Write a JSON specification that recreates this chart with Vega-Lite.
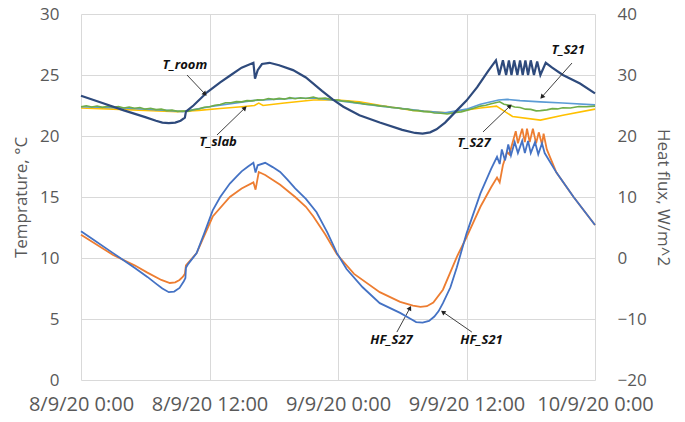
{
  "$schema": "https://vega.github.io/schema/vega-lite/v6.json",
  "width": 514,
  "height": 366,
  "autosize": {"type": "none"},
  "padding": {"left": 81, "top": 14, "right": 90, "bottom": 42},
  "background": "white",
  "config": {
    "view": {"stroke": null},
    "axis": {
      "labelFont": "Open Sans", "labelFontSize": 17, "labelColor": "#595959",
      "titleFont": "Open Sans", "titleFontSize": 17, "titleColor": "#595959", "titleFontWeight": "normal",
      "gridColor": "#D9D9D9", "gridWidth": 1, "domain": false, "ticks": false
    }
  },
  "datasets": {
    "temps": [
      {"s":"T_room","h":0,"v":23.3},{"s":"T_room","h":2,"v":22.7},{"s":"T_room","h":4,"v":22.1},{"s":"T_room","h":6,"v":21.55},{"s":"T_room","h":7,"v":21.25},{"s":"T_room","h":7.6,"v":21.1},{"s":"T_room","h":8.2,"v":21.05},{"s":"T_room","h":8.8,"v":21.1},{"s":"T_room","h":9.3,"v":21.25},{"s":"T_room","h":9.7,"v":21.5},{"s":"T_room","h":9.8,"v":22.0},{"s":"T_room","h":10.5,"v":22.5},{"s":"T_room","h":11.8,"v":23.6},{"s":"T_room","h":13,"v":24.4},{"s":"T_room","h":14,"v":25.0},{"s":"T_room","h":15,"v":25.6},{"s":"T_room","h":16.1,"v":26.0},{"s":"T_room","h":16.25,"v":24.7},{"s":"T_room","h":16.5,"v":25.4},{"s":"T_room","h":16.9,"v":25.9},{"s":"T_room","h":17.6,"v":26.0},{"s":"T_room","h":18.5,"v":25.8},{"s":"T_room","h":19.8,"v":25.4},{"s":"T_room","h":21,"v":24.8},{"s":"T_room","h":22.5,"v":23.7},{"s":"T_room","h":23.5,"v":23.0},{"s":"T_room","h":24.5,"v":22.4},{"s":"T_room","h":26,"v":21.7},{"s":"T_room","h":27.9,"v":21.1},{"s":"T_room","h":30,"v":20.5},{"s":"T_room","h":31.2,"v":20.25},{"s":"T_room","h":31.9,"v":20.2},{"s":"T_room","h":32.6,"v":20.3},{"s":"T_room","h":33.2,"v":20.55},{"s":"T_room","h":34,"v":21.1},{"s":"T_room","h":35.1,"v":22.1},{"s":"T_room","h":36,"v":22.9},{"s":"T_room","h":37,"v":24.0},{"s":"T_room","h":38,"v":25.3},{"s":"T_room","h":38.75,"v":26.2},{"s":"T_room","h":39.05,"v":25.0},{"s":"T_room","h":39.4,"v":26.2},{"s":"T_room","h":39.7,"v":25.0},{"s":"T_room","h":39.96,"v":26.2},{"s":"T_room","h":40.2,"v":25.0},{"s":"T_room","h":40.45,"v":26.2},{"s":"T_room","h":40.75,"v":25.0},{"s":"T_room","h":41.0,"v":26.2},{"s":"T_room","h":41.25,"v":25.0},{"s":"T_room","h":41.5,"v":26.2},{"s":"T_room","h":41.75,"v":25.0},{"s":"T_room","h":42.0,"v":26.2},{"s":"T_room","h":42.3,"v":25.0},{"s":"T_room","h":42.6,"v":26.1},{"s":"T_room","h":42.9,"v":25.0},{"s":"T_room","h":43.4,"v":26.0},{"s":"T_room","h":44,"v":25.6},{"s":"T_room","h":45,"v":25.0},{"s":"T_room","h":46.6,"v":24.3},{"s":"T_room","h":48,"v":23.5},

      {"s":"T_slab","h":0,"v":22.3},{"s":"T_slab","h":3,"v":22.2},{"s":"T_slab","h":6,"v":22.1},{"s":"T_slab","h":9,"v":22.0},{"s":"T_slab","h":11,"v":22.1},{"s":"T_slab","h":13,"v":22.25},{"s":"T_slab","h":15,"v":22.4},{"s":"T_slab","h":16.2,"v":22.5},{"s":"T_slab","h":16.6,"v":22.7},{"s":"T_slab","h":17,"v":22.5},{"s":"T_slab","h":19,"v":22.7},{"s":"T_slab","h":21.7,"v":22.95},{"s":"T_slab","h":24,"v":22.95},{"s":"T_slab","h":26,"v":22.8},{"s":"T_slab","h":28,"v":22.5},{"s":"T_slab","h":31,"v":22.1},{"s":"T_slab","h":34.2,"v":21.9},{"s":"T_slab","h":37.3,"v":22.3},{"s":"T_slab","h":38.8,"v":22.45},{"s":"T_slab","h":40.3,"v":21.6},{"s":"T_slab","h":42.9,"v":21.3},{"s":"T_slab","h":45,"v":21.7},{"s":"T_slab","h":48,"v":22.2},

      {"s":"T_S21","h":0,"v":22.4},{"s":"T_S21","h":4,"v":22.3},{"s":"T_S21","h":8,"v":22.1},{"s":"T_S21","h":9.5,"v":22.0},{"s":"T_S21","h":12,"v":22.4},{"s":"T_S21","h":16,"v":22.9},{"s":"T_S21","h":20,"v":23.1},{"s":"T_S21","h":22,"v":23.1},{"s":"T_S21","h":24,"v":22.9},{"s":"T_S21","h":28,"v":22.45},{"s":"T_S21","h":32,"v":22.05},{"s":"T_S21","h":34,"v":21.9},{"s":"T_S21","h":36,"v":22.2},{"s":"T_S21","h":37.3,"v":22.6},{"s":"T_S21","h":39,"v":22.95},{"s":"T_S21","h":39.8,"v":23.0},{"s":"T_S21","h":41,"v":22.9},{"s":"T_S21","h":42.9,"v":22.8},{"s":"T_S21","h":45,"v":22.7},{"s":"T_S21","h":48,"v":22.55},

      {"s":"T_S27","h":0,"v":22.4},{"s":"T_S27","h":0.5,"v":22.48},{"s":"T_S27","h":1,"v":22.38},{"s":"T_S27","h":1.5,"v":22.46},{"s":"T_S27","h":2,"v":22.35},{"s":"T_S27","h":2.5,"v":22.44},{"s":"T_S27","h":3,"v":22.36},{"s":"T_S27","h":3.5,"v":22.42},{"s":"T_S27","h":4,"v":22.3},{"s":"T_S27","h":4.5,"v":22.38},{"s":"T_S27","h":5,"v":22.28},{"s":"T_S27","h":5.5,"v":22.33},{"s":"T_S27","h":6,"v":22.2},{"s":"T_S27","h":6.5,"v":22.27},{"s":"T_S27","h":7,"v":22.16},{"s":"T_S27","h":7.5,"v":22.2},{"s":"T_S27","h":8,"v":22.08},{"s":"T_S27","h":8.5,"v":22.12},{"s":"T_S27","h":9,"v":22.02},{"s":"T_S27","h":9.5,"v":22.05},{"s":"T_S27","h":10,"v":22.02},{"s":"T_S27","h":10.5,"v":22.15},{"s":"T_S27","h":11,"v":22.22},{"s":"T_S27","h":11.5,"v":22.35},{"s":"T_S27","h":12,"v":22.4},{"s":"T_S27","h":12.5,"v":22.52},{"s":"T_S27","h":13,"v":22.58},{"s":"T_S27","h":13.5,"v":22.72},{"s":"T_S27","h":14,"v":22.72},{"s":"T_S27","h":14.5,"v":22.82},{"s":"T_S27","h":15,"v":22.8},{"s":"T_S27","h":15.5,"v":22.9},{"s":"T_S27","h":16,"v":22.88},{"s":"T_S27","h":16.5,"v":22.97},{"s":"T_S27","h":17,"v":22.95},{"s":"T_S27","h":17.5,"v":23.07},{"s":"T_S27","h":18,"v":23.0},{"s":"T_S27","h":18.5,"v":23.08},{"s":"T_S27","h":19,"v":23.02},{"s":"T_S27","h":19.5,"v":23.14},{"s":"T_S27","h":20,"v":23.06},{"s":"T_S27","h":20.5,"v":23.14},{"s":"T_S27","h":21,"v":23.08},{"s":"T_S27","h":21.7,"v":23.2},{"s":"T_S27","h":22.2,"v":23.06},{"s":"T_S27","h":22.8,"v":23.1},{"s":"T_S27","h":23.5,"v":22.97},{"s":"T_S27","h":24,"v":22.94},{"s":"T_S27","h":24.5,"v":22.85},{"s":"T_S27","h":25,"v":22.84},{"s":"T_S27","h":25.5,"v":22.74},{"s":"T_S27","h":26,"v":22.7},{"s":"T_S27","h":26.5,"v":22.6},{"s":"T_S27","h":27.2,"v":22.56},{"s":"T_S27","h":28,"v":22.45},{"s":"T_S27","h":28.5,"v":22.42},{"s":"T_S27","h":29,"v":22.33},{"s":"T_S27","h":29.5,"v":22.32},{"s":"T_S27","h":30,"v":22.24},{"s":"T_S27","h":30.5,"v":22.2},{"s":"T_S27","h":31,"v":22.1},{"s":"T_S27","h":31.5,"v":22.08},{"s":"T_S27","h":32,"v":22.0},{"s":"T_S27","h":32.5,"v":21.98},{"s":"T_S27","h":33,"v":21.88},{"s":"T_S27","h":33.6,"v":21.86},{"s":"T_S27","h":34.2,"v":21.8},{"s":"T_S27","h":35,"v":21.92},{"s":"T_S27","h":35.5,"v":21.98},{"s":"T_S27","h":36,"v":22.1},{"s":"T_S27","h":36.6,"v":22.25},{"s":"T_S27","h":37.3,"v":22.45},{"s":"T_S27","h":37.8,"v":22.52},{"s":"T_S27","h":38.3,"v":22.65},{"s":"T_S27","h":39.1,"v":22.8},{"s":"T_S27","h":39.5,"v":22.6},{"s":"T_S27","h":40,"v":22.52},{"s":"T_S27","h":40.5,"v":22.38},{"s":"T_S27","h":41,"v":22.34},{"s":"T_S27","h":41.5,"v":22.2},{"s":"T_S27","h":42,"v":22.18},{"s":"T_S27","h":42.5,"v":22.06},{"s":"T_S27","h":42.9,"v":22.08},{"s":"T_S27","h":43.5,"v":22.14},{"s":"T_S27","h":44,"v":22.24},{"s":"T_S27","h":44.5,"v":22.22},{"s":"T_S27","h":45,"v":22.32},{"s":"T_S27","h":45.7,"v":22.3},{"s":"T_S27","h":46.5,"v":22.42},{"s":"T_S27","h":47.2,"v":22.4},{"s":"T_S27","h":48,"v":22.45}
    ],
    "flux": [
      {"s":"HF_S21","h":0,"v":4.4},{"s":"HF_S21","h":1,"v":3.2},{"s":"HF_S21","h":3,"v":0.8},{"s":"HF_S21","h":5,"v":-1.6},{"s":"HF_S21","h":6.2,"v":-3.1},{"s":"HF_S21","h":7.0,"v":-4.2},{"s":"HF_S21","h":7.6,"v":-5.0},{"s":"HF_S21","h":8.2,"v":-5.6},{"s":"HF_S21","h":8.7,"v":-5.5},{"s":"HF_S21","h":9.2,"v":-4.9},{"s":"HF_S21","h":9.6,"v":-3.8},{"s":"HF_S21","h":9.75,"v":-3.3},{"s":"HF_S21","h":9.8,"v":-1.6},{"s":"HF_S21","h":10.0,"v":-1.0},{"s":"HF_S21","h":10.8,"v":0.8},{"s":"HF_S21","h":11.5,"v":4.0},{"s":"HF_S21","h":12.3,"v":7.8},{"s":"HF_S21","h":13,"v":10.0},{"s":"HF_S21","h":13.9,"v":12.2},{"s":"HF_S21","h":14.5,"v":13.3},{"s":"HF_S21","h":15,"v":14.2},{"s":"HF_S21","h":15.6,"v":15.0},{"s":"HF_S21","h":16.1,"v":15.6},{"s":"HF_S21","h":16.3,"v":14.0},{"s":"HF_S21","h":16.5,"v":15.2},{"s":"HF_S21","h":17.2,"v":15.6},{"s":"HF_S21","h":17.9,"v":14.9},{"s":"HF_S21","h":18.6,"v":14.1},{"s":"HF_S21","h":19.3,"v":12.8},{"s":"HF_S21","h":20,"v":11.4},{"s":"HF_S21","h":21,"v":9.7},{"s":"HF_S21","h":22,"v":7.5},{"s":"HF_S21","h":23,"v":4.2},{"s":"HF_S21","h":23.9,"v":0.8},{"s":"HF_S21","h":24.8,"v":-1.8},{"s":"HF_S21","h":26.3,"v":-4.8},{"s":"HF_S21","h":27.9,"v":-7.4},{"s":"HF_S21","h":29.8,"v":-9.0},{"s":"HF_S21","h":30.8,"v":-10.0},{"s":"HF_S21","h":31.3,"v":-10.5},{"s":"HF_S21","h":31.9,"v":-10.6},{"s":"HF_S21","h":32.5,"v":-10.3},{"s":"HF_S21","h":33.0,"v":-9.6},{"s":"HF_S21","h":33.4,"v":-8.7},{"s":"HF_S21","h":33.8,"v":-7.4},{"s":"HF_S21","h":34.5,"v":-4.8},{"s":"HF_S21","h":35.1,"v":-1.5},{"s":"HF_S21","h":36,"v":4.0},{"s":"HF_S21","h":37.3,"v":10.6},{"s":"HF_S21","h":38.3,"v":14.6},{"s":"HF_S21","h":38.85,"v":16.6},{"s":"HF_S21","h":39.1,"v":15.4},{"s":"HF_S21","h":39.3,"v":17.8},{"s":"HF_S21","h":39.6,"v":16.0},{"s":"HF_S21","h":39.9,"v":18.6},{"s":"HF_S21","h":40.15,"v":16.8},{"s":"HF_S21","h":40.5,"v":19.0},{"s":"HF_S21","h":40.8,"v":17.2},{"s":"HF_S21","h":41.2,"v":19.2},{"s":"HF_S21","h":41.45,"v":17.2},{"s":"HF_S21","h":41.75,"v":19.2},{"s":"HF_S21","h":42.0,"v":17.2},{"s":"HF_S21","h":42.4,"v":19.0},{"s":"HF_S21","h":42.7,"v":17.0},{"s":"HF_S21","h":43.05,"v":18.8},{"s":"HF_S21","h":43.3,"v":17.2},{"s":"HF_S21","h":44.4,"v":14.0},{"s":"HF_S21","h":46,"v":10.0},{"s":"HF_S21","h":48,"v":5.4},

      {"s":"HF_S27","h":0,"v":3.8},{"s":"HF_S27","h":3,"v":0.5},{"s":"HF_S27","h":5,"v":-1.2},{"s":"HF_S27","h":6.2,"v":-2.4},{"s":"HF_S27","h":7.5,"v":-3.6},{"s":"HF_S27","h":8.3,"v":-4.1},{"s":"HF_S27","h":8.8,"v":-4.0},{"s":"HF_S27","h":9.2,"v":-3.6},{"s":"HF_S27","h":9.5,"v":-3.1},{"s":"HF_S27","h":9.7,"v":-2.6},{"s":"HF_S27","h":9.8,"v":-1.2},{"s":"HF_S27","h":10.8,"v":0.8},{"s":"HF_S27","h":12.3,"v":6.8},{"s":"HF_S27","h":13.9,"v":10.0},{"s":"HF_S27","h":15.0,"v":11.4},{"s":"HF_S27","h":16.1,"v":12.4},{"s":"HF_S27","h":16.3,"v":11.2},{"s":"HF_S27","h":16.6,"v":14.1},{"s":"HF_S27","h":17.2,"v":13.6},{"s":"HF_S27","h":18.6,"v":12.0},{"s":"HF_S27","h":20,"v":10.0},{"s":"HF_S27","h":21,"v":8.4},{"s":"HF_S27","h":21.7,"v":6.8},{"s":"HF_S27","h":22.8,"v":3.9},{"s":"HF_S27","h":23.9,"v":0.6},{"s":"HF_S27","h":25.5,"v":-2.6},{"s":"HF_S27","h":27.9,"v":-5.6},{"s":"HF_S27","h":29.8,"v":-7.2},{"s":"HF_S27","h":31.0,"v":-7.8},{"s":"HF_S27","h":31.7,"v":-8.0},{"s":"HF_S27","h":32.3,"v":-7.9},{"s":"HF_S27","h":32.9,"v":-7.3},{"s":"HF_S27","h":33.8,"v":-5.2},{"s":"HF_S27","h":35.1,"v":0.2},{"s":"HF_S27","h":36,"v":3.4},{"s":"HF_S27","h":37.3,"v":8.4},{"s":"HF_S27","h":38.3,"v":11.6},{"s":"HF_S27","h":38.85,"v":13.2},{"s":"HF_S27","h":39.1,"v":12.4},{"s":"HF_S27","h":39.4,"v":15.2},{"s":"HF_S27","h":39.8,"v":17.4},{"s":"HF_S27","h":40.0,"v":17.0},{"s":"HF_S27","h":40.6,"v":20.8},{"s":"HF_S27","h":40.8,"v":18.8},{"s":"HF_S27","h":41.2,"v":21.2},{"s":"HF_S27","h":41.45,"v":19.0},{"s":"HF_S27","h":41.65,"v":21.2},{"s":"HF_S27","h":41.9,"v":19.0},{"s":"HF_S27","h":42.2,"v":21.2},{"s":"HF_S27","h":42.5,"v":18.8},{"s":"HF_S27","h":42.75,"v":20.6},{"s":"HF_S27","h":43.05,"v":18.6},{"s":"HF_S27","h":43.2,"v":20.4},{"s":"HF_S27","h":43.5,"v":17.8},{"s":"HF_S27","h":44.4,"v":14.0},{"s":"HF_S27","h":46,"v":10.0},{"s":"HF_S27","h":48,"v":5.4}
    ],
    "notes": [
      {"label":"T_room","h":9.7,"v":25.8,"th":9.9,"tv":25.0,"ah":11.58,"av":23.44},
      {"label":"T_slab","h":12.8,"v":19.5,"th":12.7,"tv":20.08,"ah":15.31,"av":22.3},
      {"label":"T_S21","h":45.5,"v":27.05,"th":45.85,"tv":25.98,"ah":43.04,"av":23.2},
      {"label":"T_S27","h":36.7,"v":19.43,"th":37.54,"tv":20.33,"ah":40.06,"av":22.46},
      {"label":"HF_S27","h":29.0,"v":3.28,"th":29.5,"tv":3.93,"ah":30.72,"av":5.9},
      {"label":"HF_S21","h":37.4,"v":3.28,"th":36.5,"tv":3.93,"ah":33.8,"av":5.57}
    ]
  },
  "layer": [
    {
      "layer": [
        {
          "data": {"name": "temps"},
          "transform": [{"filter": "datum.s == 'T_slab'"}],
          "mark": {"type": "line", "color": "#FFC000", "strokeWidth": 1.6},
          "encoding": {
            "x": {"field": "h", "type": "quantitative", "scale": {"domain": [0, 48], "nice": false},
              "axis": {"values": [0, 12, 24, 36, 48], "title": null, "grid": true, "labelPadding": 14,
                "labelFontSize": 20, "labelOverlap": false, "labelFlush": false,
                "labelExpr": "['8/9/20 0:00','8/9/20 12:00','9/9/20 0:00','9/9/20 12:00','10/9/20 0:00'][round(datum.value/12)]"}},
            "y": {"field": "v", "type": "quantitative", "scale": {"domain": [0, 30], "nice": false},
              "axis": {"values": [0, 5, 10, 15, 20, 25, 30], "title": "Temprature, °C", "grid": true, "labelPadding": 22,
                "titleAngle": -90, "titleX": -60, "titleY": 183, "titleBaseline": "middle", "titleAlign": "center"}}
          }
        },
        {
          "data": {"name": "temps"},
          "transform": [{"filter": "datum.s == 'T_S21'"}],
          "mark": {"type": "line", "color": "#5B9BD5", "strokeWidth": 1.6},
          "encoding": {"x": {"field": "h", "type": "quantitative"}, "y": {"field": "v", "type": "quantitative"}}
        },
        {
          "data": {"name": "temps"},
          "transform": [{"filter": "datum.s == 'T_S27'"}],
          "mark": {"type": "line", "color": "#70AD47", "strokeWidth": 1.6},
          "encoding": {"x": {"field": "h", "type": "quantitative"}, "y": {"field": "v", "type": "quantitative"}}
        },
        {
          "data": {"name": "temps"},
          "transform": [{"filter": "datum.s == 'T_room'"}],
          "mark": {"type": "line", "color": "#2E4A7C", "strokeWidth": 2.2},
          "encoding": {"x": {"field": "h", "type": "quantitative"}, "y": {"field": "v", "type": "quantitative"}}
        },
        {
          "data": {"name": "notes"},
          "mark": {"type": "rule", "color": "#404040", "strokeWidth": 1},
          "encoding": {"x": {"field": "th", "type": "quantitative"}, "y": {"field": "tv", "type": "quantitative"},
            "x2": {"field": "ah"}, "y2": {"field": "av"}}
        },
        {
          "data": {"name": "notes"},
          "mark": {"type": "text", "font": "Open Sans", "fontSize": 13, "fontWeight": "bold", "fontStyle": "italic", "color": "#111111"},
          "encoding": {"x": {"field": "h", "type": "quantitative"}, "y": {"field": "v", "type": "quantitative"}, "text": {"field": "label"}}
        },
        {"data": {"name": "notes"}, "transform": [{"filter": "datum.label == 'T_room'"}],
          "mark": {"type": "point", "shape": "triangle-up", "filled": true, "color": "#222222", "size": 28, "angle": 136, "opacity": 1},
          "encoding": {"x": {"field": "ah", "type": "quantitative"}, "y": {"field": "av", "type": "quantitative"}}},
        {"data": {"name": "notes"}, "transform": [{"filter": "datum.label == 'T_slab' || datum.label == 'T_S27'"}],
          "mark": {"type": "point", "shape": "triangle-up", "filled": true, "color": "#222222", "size": 28, "angle": 46, "opacity": 1},
          "encoding": {"x": {"field": "ah", "type": "quantitative"}, "y": {"field": "av", "type": "quantitative"}}},
        {"data": {"name": "notes"}, "transform": [{"filter": "datum.label == 'T_S21'"}],
          "mark": {"type": "point", "shape": "triangle-up", "filled": true, "color": "#222222", "size": 28, "angle": -139, "opacity": 1},
          "encoding": {"x": {"field": "ah", "type": "quantitative"}, "y": {"field": "av", "type": "quantitative"}}},
        {"data": {"name": "notes"}, "transform": [{"filter": "datum.label == 'HF_S27'"}],
          "mark": {"type": "point", "shape": "triangle-up", "filled": true, "color": "#222222", "size": 28, "angle": 28, "opacity": 1},
          "encoding": {"x": {"field": "ah", "type": "quantitative"}, "y": {"field": "av", "type": "quantitative"}}},
        {"data": {"name": "notes"}, "transform": [{"filter": "datum.label == 'HF_S21'"}],
          "mark": {"type": "point", "shape": "triangle-up", "filled": true, "color": "#222222", "size": 28, "angle": -55, "opacity": 1},
          "encoding": {"x": {"field": "ah", "type": "quantitative"}, "y": {"field": "av", "type": "quantitative"}}}
      ]
    },
    {
      "layer": [
        {
          "data": {"name": "flux"},
          "transform": [{"filter": "datum.s == 'HF_S27'"}],
          "mark": {"type": "line", "color": "#ED7D31", "strokeWidth": 1.8},
          "encoding": {
            "x": {"field": "h", "type": "quantitative"},
            "y": {"field": "v", "type": "quantitative", "scale": {"domain": [-20, 40], "nice": false},
              "axis": {"orient": "right", "values": [-20, -10, 0, 10, 20, 30, 40], "grid": false, "labelPadding": 22,
                "title": "Heat flux, W/m^2", "titleAngle": 90, "titleX": 67, "titleY": 183, "titleBaseline": "middle", "titleAlign": "center"}}
          }
        },
        {
          "data": {"name": "flux"},
          "transform": [{"filter": "datum.s == 'HF_S21'"}],
          "mark": {"type": "line", "color": "#4472C4", "strokeWidth": 1.8},
          "encoding": {"x": {"field": "h", "type": "quantitative"}, "y": {"field": "v", "type": "quantitative"}}
        }
      ]
    }
  ],
  "resolve": {"scale": {"y": "independent"}}
}
